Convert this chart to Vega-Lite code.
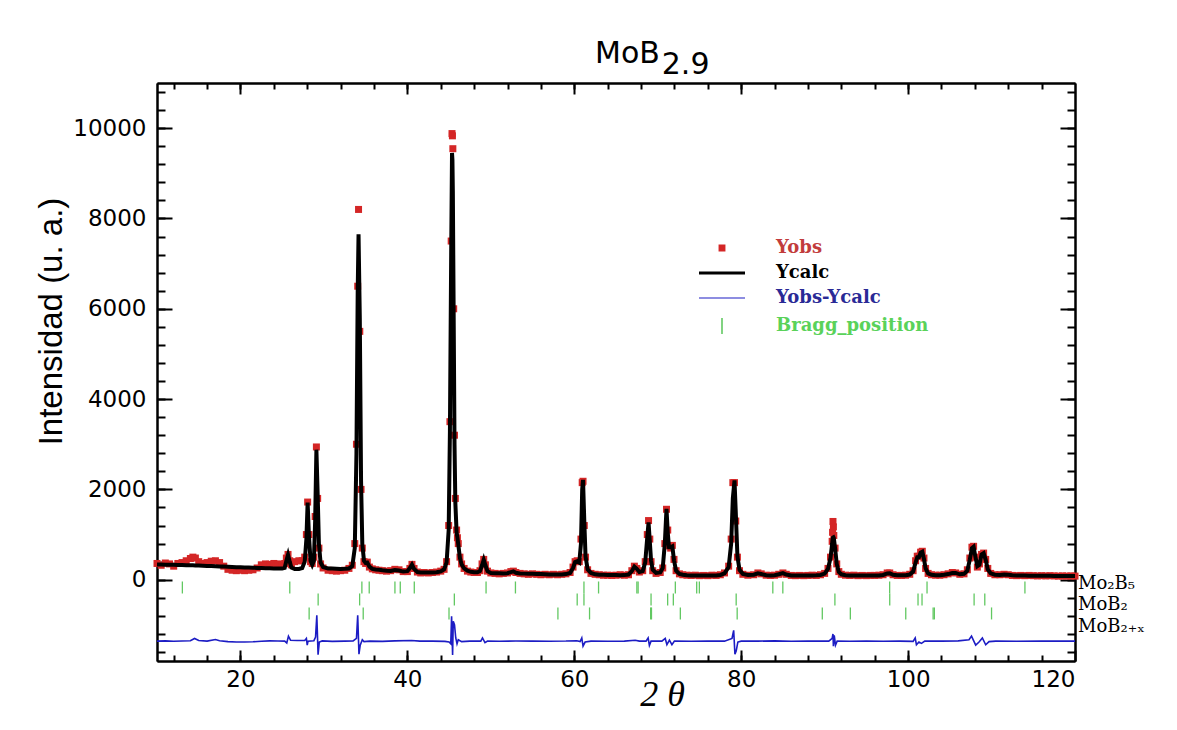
{
  "$schema": "https://vega.github.io/schema/vega-lite/v6.json",
  "width": 918,
  "height": 578,
  "autosize": "none",
  "padding": {"left": 157, "top": 83, "right": 102, "bottom": 69},
  "background": "white",
  "title": {"text": "MoB", "subtitle": "\u200b\u00a0\u00a0\u00a0\u00a0\u00a0\u00a0\u00a02.9", "font": "DejaVu Sans", "fontSize": 30, "fontWeight": "normal", "color": "black", "subtitleFont": "DejaVu Sans", "subtitleFontSize": 30, "subtitleColor": "black", "subtitlePadding": -19, "anchor": "start", "frame": "group", "align": "left", "dx": 438, "offset": -22, "baseline": "alphabetic"},
  "config": {
    "view": {"stroke": null},
    "axis": {"grid": false, "domainColor": "black", "domainWidth": 2, "tickColor": "black", "tickWidth": 2, "labelFont": "DejaVu Sans", "labelFontSize": 23, "labelColor": "black", "titleColor": "black"}
  },
  "datasets": {
    "prof": [
      {"x":10.0,"o":360,"c":338},{"x":10.5,"o":320,"c":336},{"x":11.0,"o":370,"c":334},{"x":11.5,"o":350,"c":332},{"x":12.0,"o":300,"c":330},{"x":12.5,"o":360,"c":328},{"x":13.0,"o":380,"c":326},{"x":13.5,"o":420,"c":323},{"x":14.0,"o":470,"c":320},{"x":14.3,"o":500,"c":318},{"x":14.6,"o":480,"c":316},{"x":15.0,"o":400,"c":313},{"x":15.5,"o":360,"c":310},{"x":16.0,"o":380,"c":306},{"x":16.5,"o":410,"c":302},{"x":17.0,"o":420,"c":298},{"x":17.5,"o":380,"c":294},{"x":18.0,"o":300,"c":290},{"x":18.5,"o":230,"c":286},{"x":19.0,"o":210,"c":282},{"x":19.5,"o":200,"c":278},{"x":20.0,"o":210,"c":274},{"x":20.5,"o":200,"c":271},{"x":21.0,"o":210,"c":268},{"x":21.5,"o":220,"c":265},{"x":22.0,"o":260,"c":262},{"x":22.5,"o":330,"c":259},{"x":23.0,"o":350,"c":256},{"x":23.5,"o":340,"c":253},{"x":24.0,"o":360,"c":250},{"x":24.5,"o":350,"c":248},{"x":25.0,"o":330,"c":246},{"x":25.3,"o":360,"c":260},{"x":25.5,"o":480,"c":420},{"x":25.7,"o":560,"c":550},{"x":25.9,"o":420,"c":400},{"x":26.1,"o":330,"c":270},{"x":26.5,"o":400,"c":240},{"x":27.0,"o":420,"c":240},{"x":27.4,"o":420,"c":260},{"x":27.7,"o":500,"c":400},{"x":27.9,"o":1000,"c":900},{"x":28.05,"o":1720,"c":1710},{"x":28.2,"o":1000,"c":1000},{"x":28.4,"o":400,"c":420},{"x":28.6,"o":360,"c":330},{"x":28.8,"o":500,"c":420},{"x":28.95,"o":1400,"c":1300},{"x":29.1,"o":2940,"c":2880},{"x":29.25,"o":1800,"c":1900},{"x":29.4,"o":700,"c":800},{"x":29.6,"o":350,"c":380},{"x":29.9,"o":260,"c":280},{"x":30.5,"o":210,"c":250},{"x":31.0,"o":200,"c":246},{"x":31.5,"o":190,"c":243},{"x":32.0,"o":200,"c":240},{"x":32.5,"o":210,"c":242},{"x":33.0,"o":250,"c":250},{"x":33.4,"o":320,"c":300},{"x":33.7,"o":800,"c":700},{"x":33.9,"o":3000,"c":2800},{"x":34.05,"o":6500,"c":6400},{"x":34.15,"o":8200,"c":7650},{"x":34.3,"o":5500,"c":5800},{"x":34.45,"o":2000,"c":2200},{"x":34.6,"o":700,"c":800},{"x":34.8,"o":400,"c":420},{"x":35.0,"o":360,"c":370},{"x":35.2,"o":390,"c":380},{"x":35.45,"o":280,"c":290},{"x":35.8,"o":240,"c":240},{"x":36.2,"o":220,"c":228},{"x":36.6,"o":210,"c":220},{"x":37.0,"o":200,"c":210},{"x":37.5,"o":190,"c":200},{"x":38.0,"o":200,"c":195},{"x":38.5,"o":230,"c":215},{"x":39.0,"o":220,"c":205},{"x":39.5,"o":180,"c":180},{"x":40.0,"o":180,"c":190},{"x":40.3,"o":250,"c":260},{"x":40.55,"o":340,"c":335},{"x":40.8,"o":250,"c":240},{"x":41.2,"o":170,"c":170},{"x":41.6,"o":150,"c":162},{"x":42.0,"o":160,"c":160},{"x":42.5,"o":150,"c":158},{"x":43.0,"o":160,"c":160},{"x":43.5,"o":170,"c":165},{"x":44.0,"o":190,"c":185},{"x":44.4,"o":230,"c":230},{"x":44.7,"o":400,"c":380},{"x":44.95,"o":1200,"c":1100},{"x":45.1,"o":3500,"c":3300},{"x":45.25,"o":7500,"c":7200},{"x":45.35,"o":9880,"c":9450},{"x":45.4,"o":9830,"c":9300},{"x":45.45,"o":9545,"c":8600},{"x":45.55,"o":6000,"c":5800},{"x":45.65,"o":3200,"c":3000},{"x":45.75,"o":1800,"c":1700},{"x":45.9,"o":1100,"c":1050},{"x":46.0,"o":930,"c":930},{"x":46.1,"o":800,"c":780},{"x":46.3,"o":500,"c":480},{"x":46.5,"o":350,"c":340},{"x":46.8,"o":250,"c":250},{"x":47.2,"o":190,"c":200},{"x":47.6,"o":170,"c":175},{"x":48.0,"o":160,"c":165},{"x":48.4,"o":160,"c":165},{"x":48.7,"o":200,"c":190},{"x":48.95,"o":350,"c":320},{"x":49.15,"o":450,"c":440},{"x":49.35,"o":330,"c":320},{"x":49.6,"o":190,"c":190},{"x":50.0,"o":150,"c":150},{"x":50.5,"o":140,"c":145},{"x":51.0,"o":130,"c":142},{"x":51.5,"o":140,"c":140},{"x":52.0,"o":150,"c":145},{"x":52.4,"o":180,"c":170},{"x":52.7,"o":190,"c":185},{"x":53.0,"o":160,"c":155},{"x":53.5,"o":140,"c":140},{"x":54.0,"o":130,"c":135},{"x":54.5,"o":120,"c":132},{"x":55.0,"o":130,"c":130},{"x":55.5,"o":120,"c":127},{"x":56.0,"o":110,"c":124},{"x":56.5,"o":120,"c":121},{"x":57.0,"o":110,"c":118},{"x":57.5,"o":120,"c":116},{"x":58.0,"o":110,"c":114},{"x":58.5,"o":120,"c":115},{"x":59.0,"o":130,"c":125},{"x":59.5,"o":160,"c":150},{"x":59.85,"o":280,"c":260},{"x":60.1,"o":400,"c":390},{"x":60.35,"o":420,"c":410},{"x":60.6,"o":400,"c":380},{"x":60.8,"o":900,"c":800},{"x":60.95,"o":2150,"c":2000},{"x":61.05,"o":2180,"c":2210},{"x":61.2,"o":1200,"c":1300},{"x":61.35,"o":500,"c":520},{"x":61.6,"o":220,"c":230},{"x":62.0,"o":140,"c":150},{"x":62.5,"o":120,"c":120},{"x":63.0,"o":110,"c":110},{"x":63.5,"o":100,"c":108},{"x":64.0,"o":100,"c":105},{"x":64.5,"o":95,"c":103},{"x":65.0,"o":100,"c":102},{"x":65.5,"o":110,"c":101},{"x":66.0,"o":100,"c":102},{"x":66.5,"o":110,"c":115},{"x":66.9,"o":200,"c":190},{"x":67.2,"o":300,"c":290},{"x":67.5,"o":250,"c":240},{"x":67.8,"o":170,"c":170},{"x":68.2,"o":200,"c":190},{"x":68.5,"o":400,"c":380},{"x":68.75,"o":1000,"c":950},{"x":68.9,"o":1310,"c":1270},{"x":69.05,"o":900,"c":850},{"x":69.2,"o":400,"c":420},{"x":69.4,"o":200,"c":220},{"x":69.8,"o":140,"c":150},{"x":70.3,"o":160,"c":160},{"x":70.6,"o":260,"c":260},{"x":70.85,"o":800,"c":800},{"x":71.05,"o":1560,"c":1570},{"x":71.2,"o":1100,"c":1050},{"x":71.35,"o":750,"c":720},{"x":71.55,"o":700,"c":720},{"x":71.75,"o":760,"c":740},{"x":71.95,"o":450,"c":430},{"x":72.2,"o":200,"c":200},{"x":72.6,"o":130,"c":130},{"x":73.0,"o":110,"c":110},{"x":73.5,"o":100,"c":100},{"x":74.0,"o":95,"c":95},{"x":74.5,"o":100,"c":95},{"x":75.0,"o":90,"c":92},{"x":75.5,"o":95,"c":92},{"x":76.0,"o":90,"c":92},{"x":76.5,"o":100,"c":93},{"x":77.0,"o":95,"c":95},{"x":77.5,"o":110,"c":105},{"x":78.0,"o":150,"c":140},{"x":78.5,"o":300,"c":280},{"x":78.8,"o":900,"c":800},{"x":79.0,"o":2150,"c":1800},{"x":79.2,"o":2150,"c":2200},{"x":79.35,"o":1300,"c":1500},{"x":79.55,"o":500,"c":520},{"x":79.8,"o":200,"c":220},{"x":80.2,"o":120,"c":130},{"x":80.8,"o":100,"c":105},{"x":81.5,"o":110,"c":110},{"x":82.0,"o":150,"c":140},{"x":82.4,"o":130,"c":125},{"x":83.0,"o":100,"c":100},{"x":83.5,"o":95,"c":95},{"x":84.0,"o":100,"c":100},{"x":84.5,"o":120,"c":120},{"x":85.0,"o":150,"c":145},{"x":85.4,"o":120,"c":115},{"x":86.0,"o":95,"c":95},{"x":86.5,"o":90,"c":92},{"x":87.0,"o":95,"c":92},{"x":87.5,"o":90,"c":92},{"x":88.0,"o":95,"c":93},{"x":88.5,"o":100,"c":95},{"x":89.0,"o":95,"c":98},{"x":89.5,"o":110,"c":105},{"x":90.0,"o":140,"c":135},{"x":90.4,"o":250,"c":240},{"x":90.7,"o":500,"c":480},{"x":90.9,"o":850,"c":800},{"x":90.95,"o":1050,"c":900},{"x":91.0,"o":1290,"c":935},{"x":91.05,"o":1170,"c":940},{"x":91.1,"o":980,"c":920},{"x":91.25,"o":700,"c":700},{"x":91.45,"o":350,"c":350},{"x":91.7,"o":180,"c":170},{"x":92.0,"o":120,"c":120},{"x":92.5,"o":100,"c":100},{"x":93.0,"o":95,"c":95},{"x":93.5,"o":100,"c":95},{"x":94.0,"o":90,"c":93},{"x":94.5,"o":95,"c":93},{"x":95.0,"o":90,"c":93},{"x":95.5,"o":95,"c":93},{"x":96.0,"o":95,"c":94},{"x":96.5,"o":100,"c":96},{"x":97.0,"o":110,"c":105},{"x":97.5,"o":150,"c":140},{"x":97.8,"o":150,"c":145},{"x":98.2,"o":110,"c":110},{"x":98.7,"o":95,"c":98},{"x":99.2,"o":95,"c":97},{"x":99.7,"o":100,"c":100},{"x":100.2,"o":120,"c":115},{"x":100.6,"o":200,"c":180},{"x":100.9,"o":420,"c":380},{"x":101.1,"o":520,"c":500},{"x":101.3,"o":520,"c":500},{"x":101.5,"o":610,"c":600},{"x":101.7,"o":630,"c":620},{"x":101.9,"o":480,"c":460},{"x":102.1,"o":250,"c":250},{"x":102.4,"o":140,"c":140},{"x":102.8,"o":110,"c":110},{"x":103.3,"o":100,"c":100},{"x":103.8,"o":100,"c":100},{"x":104.3,"o":110,"c":110},{"x":104.8,"o":130,"c":125},{"x":105.3,"o":160,"c":150},{"x":105.7,"o":150,"c":150},{"x":106.2,"o":120,"c":120},{"x":106.7,"o":130,"c":130},{"x":107.1,"o":220,"c":200},{"x":107.4,"o":480,"c":450},{"x":107.65,"o":720,"c":700},{"x":107.85,"o":740,"c":730},{"x":108.05,"o":500,"c":520},{"x":108.3,"o":280,"c":300},{"x":108.55,"o":350,"c":330},{"x":108.8,"o":560,"c":560},{"x":109.05,"o":590,"c":590},{"x":109.3,"o":450,"c":440},{"x":109.55,"o":250,"c":230},{"x":109.9,"o":140,"c":140},{"x":110.4,"o":110,"c":110},{"x":111.0,"o":110,"c":105},{"x":111.5,"o":120,"c":115},{"x":112.0,"o":110,"c":108},{"x":112.5,"o":95,"c":98},{"x":113.0,"o":90,"c":95},{"x":113.5,"o":95,"c":92},{"x":114.0,"o":90,"c":92},{"x":114.5,"o":95,"c":90},{"x":115.0,"o":90,"c":90},{"x":115.5,"o":85,"c":88},{"x":116.0,"o":90,"c":88},{"x":116.5,"o":85,"c":87},{"x":117.0,"o":90,"c":86},{"x":117.5,"o":85,"c":85},{"x":118.0,"o":80,"c":84},{"x":118.5,"o":85,"c":83},{"x":119.0,"o":80,"c":82},{"x":119.5,"o":85,"c":81},{"x":120.0,"o":80,"c":80}
    ],
    "diff": [
      {"x":10,"d":-1360},{"x":11,"d":-1355},{"x":12,"d":-1362},{"x":13,"d":-1358},{"x":14,"d":-1350},{"x":14.5,"d":-1300},{"x":15,"d":-1345},{"x":16,"d":-1360},{"x":17,"d":-1325},{"x":17.5,"d":-1350},{"x":18.5,"d":-1370},{"x":19.5,"d":-1378},{"x":20.5,"d":-1380},{"x":21.5,"d":-1375},{"x":22.5,"d":-1362},{"x":23.5,"d":-1355},{"x":24.5,"d":-1358},{"x":25.3,"d":-1360},{"x":25.55,"d":-1400},{"x":25.75,"d":-1250},{"x":26.0,"d":-1340},{"x":26.8,"d":-1345},{"x":27.7,"d":-1345},{"x":27.9,"d":-1300},{"x":28.0,"d":-1450},{"x":28.1,"d":-1360},{"x":28.8,"d":-1350},{"x":29.0,"d":-1270},{"x":29.15,"d":-790},{"x":29.3,"d":-1660},{"x":29.45,"d":-1380},{"x":29.8,"d":-1355},{"x":31,"d":-1365},{"x":32.5,"d":-1360},{"x":33.5,"d":-1355},{"x":33.9,"d":-1300},{"x":34.05,"d":-790},{"x":34.2,"d":-1650},{"x":34.35,"d":-1450},{"x":34.6,"d":-1330},{"x":34.8,"d":-1370},{"x":35.5,"d":-1360},{"x":37,"d":-1365},{"x":38.5,"d":-1355},{"x":40.5,"d":-1345},{"x":41.5,"d":-1360},{"x":43,"d":-1360},{"x":44.5,"d":-1365},{"x":45.0,"d":-1380},{"x":45.2,"d":-1420},{"x":45.3,"d":-810},{"x":45.42,"d":-1665},{"x":45.5,"d":-920},{"x":45.65,"d":-1000},{"x":45.8,"d":-1290},{"x":45.95,"d":-1420},{"x":46.1,"d":-1330},{"x":46.5,"d":-1370},{"x":47.5,"d":-1360},{"x":48.8,"d":-1360},{"x":49.0,"d":-1290},{"x":49.3,"d":-1395},{"x":49.6,"d":-1360},{"x":51,"d":-1362},{"x":53,"d":-1358},{"x":55,"d":-1360},{"x":57,"d":-1362},{"x":59,"d":-1358},{"x":60.3,"d":-1350},{"x":60.7,"d":-1370},{"x":60.9,"d":-1290},{"x":61.05,"d":-1470},{"x":61.3,"d":-1380},{"x":62,"d":-1360},{"x":64,"d":-1362},{"x":66,"d":-1360},{"x":67.3,"d":-1340},{"x":67.8,"d":-1360},{"x":68.6,"d":-1360},{"x":68.85,"d":-1290},{"x":69.0,"d":-1455},{"x":69.2,"d":-1360},{"x":70.5,"d":-1360},{"x":70.9,"d":-1300},{"x":71.1,"d":-1440},{"x":71.4,"d":-1340},{"x":71.7,"d":-1440},{"x":72.0,"d":-1360},{"x":74,"d":-1362},{"x":76,"d":-1360},{"x":78,"d":-1360},{"x":78.9,"d":-1300},{"x":79.1,"d":-1120},{"x":79.25,"d":-1650},{"x":79.4,"d":-1580},{"x":79.6,"d":-1380},{"x":80,"d":-1360},{"x":82,"d":-1360},{"x":84,"d":-1355},{"x":86,"d":-1362},{"x":88,"d":-1360},{"x":90.5,"d":-1360},{"x":90.9,"d":-1300},{"x":91.0,"d":-1200},{"x":91.05,"d":-1470},{"x":91.15,"d":-1230},{"x":91.3,"d":-1450},{"x":91.5,"d":-1360},{"x":93,"d":-1362},{"x":95,"d":-1360},{"x":97,"d":-1362},{"x":99,"d":-1360},{"x":100.6,"d":-1365},{"x":100.85,"d":-1290},{"x":101.0,"d":-1440},{"x":101.3,"d":-1380},{"x":101.6,"d":-1410},{"x":102,"d":-1360},{"x":104,"d":-1360},{"x":106,"d":-1355},{"x":107.3,"d":-1330},{"x":107.6,"d":-1250},{"x":108.1,"d":-1450},{"x":108.5,"d":-1380},{"x":108.9,"d":-1290},{"x":109.3,"d":-1440},{"x":109.7,"d":-1370},{"x":110.5,"d":-1360},{"x":113,"d":-1362},{"x":116,"d":-1360},{"x":120,"d":-1360}
    ],
    "b1": [{"x":13.04},{"x":25.91},{"x":34.55},{"x":35.43},{"x":38.51},{"x":39.15},{"x":40.83},{"x":49.43},{"x":52.95},{"x":61.16},{"x":62.91},{"x":67.5},{"x":67.65},{"x":72.11},{"x":74.67},{"x":74.99},{"x":83.79},{"x":84.99},{"x":97.79},{"x":102.27},{"x":114.0}],
    "b2": [{"x":29.31},{"x":34.28},{"x":45.63},{"x":60.35},{"x":61.16},{"x":69.2},{"x":71.19},{"x":71.87},{"x":79.4},{"x":91.23},{"x":97.8},{"x":101.19},{"x":101.67},{"x":107.91},{"x":109.19}],
    "b3": [{"x":28.23},{"x":34.71},{"x":44.99},{"x":58.04},{"x":61.83},{"x":69.15},{"x":69.25},{"x":72.71},{"x":79.52},{"x":89.72},{"x":93.08},{"x":99.72},{"x":103.0},{"x":103.15},{"x":110.0}],
    "lab": [{"label":"Mo₂B₅","y":-210},{"label":"MoB₂","y":-665},{"label":"MoB₂₊ₓ","y":-1150}]
  },
  "resolve": {"axis": {"x": "independent", "y": "independent"}},
  "layer": [
    {
      "data": {"name": "prof"},
      "mark": {"type": "square", "size": 49, "opacity": 1},
      "encoding": {
        "x": {"field": "x", "type": "quantitative", "scale": {"domain": [10, 120], "nice": false, "zero": false},
              "axis": {"orient": "bottom", "values": [20, 40, 60, 80, 100, 120], "tickSize": -11, "labelPadding": 18, "title": "2  θ", "titleFont": "Liberation Serif", "titleFontStyle": "italic", "titleFontSize": 36, "titleFontWeight": "normal", "titleX": 505, "titleY": 44, "titleAlign": "center", "titleBaseline": "alphabetic"}},
        "y": {"field": "o", "type": "quantitative", "scale": {"domain": [-1800, 11000], "nice": false, "zero": false},
              "axis": {"orient": "left", "values": [0, 2000, 4000, 6000, 8000, 10000], "format": "d", "tickSize": -15, "labelPadding": 26, "title": "Intensidad (u. a.)", "titleFont": "Liberation Sans", "titleFontSize": 33, "titleFontWeight": "normal", "titleX": -96, "titleY": 238, "titleAlign": "center", "titleBaseline": "alphabetic", "titleAngle": -90}},
        "color": {"datum": "Yobs", "type": "nominal",
                  "scale": {"domain": ["Yobs", "Ycalc", "Yobs-Ycalc", "Bragg_position"], "range": ["#d42626", "#000000", "#1c1cc4", "#62c862"]},
                  "legend": {"orient": "none", "legendX": 556, "legendY": 156, "title": null, "padding": 0, "symbolSize": 400, "labelOffset": 45, "labelFont": "DejaVu Serif", "labelFontWeight": "bold", "labelFontSize": 18, "rowPadding": 7,
                             "encoding": {
                               "symbols": {
                                 "shape": {"value": {"expr": "datum.value === 'Yobs' ? 'square' : datum.value === 'Bragg_position' ? 'M0,-1L0,1' : 'stroke'"}},
                                 "size": {"value": {"expr": "datum.value === 'Yobs' ? 28 : datum.value === 'Bragg_position' ? 256 : 2116"}},
                                 "fill": {"value": {"expr": "datum.value === 'Yobs' ? '#cc2222' : 'transparent'"}},
                                 "stroke": {"value": {"expr": "datum.value === 'Yobs' ? 'transparent' : datum.value === 'Ycalc' ? '#000000' : datum.value === 'Yobs-Ycalc' ? '#2b2b99' : '#2e8b2e'"}},
                                 "strokeWidth": {"value": {"expr": "datum.value === 'Ycalc' ? 3 : datum.value === 'Yobs-Ycalc' ? 1.2 : 1.6"}},
                                 "opacity": {"value": 1}
                               },
                               "labels": {
                                 "fill": {"value": {"expr": "datum.value === 'Yobs' ? '#c23c3c' : datum.value === 'Ycalc' ? '#000000' : datum.value === 'Yobs-Ycalc' ? '#2a2a96' : '#5ad25a'"}}
                               }
                             }}}
      }
    },
    {
      "data": {"name": "prof"},
      "mark": {"type": "line", "strokeWidth": 4},
      "encoding": {
        "x": {"field": "x", "type": "quantitative", "scale": {"domain": [10, 120], "nice": false, "zero": false},
              "axis": {"orient": "bottom", "values": [12,16,20,24,28,32,36,40,44,48,52,56,60,64,68,72,76,80,84,88,92,96,100,104,108,112,116], "tickSize": -6, "labels": false, "title": null}},
        "y": {"field": "c", "type": "quantitative", "scale": {"domain": [-1800, 11000], "nice": false, "zero": false},
              "axis": {"orient": "left", "values": [-1600,-1200,-800,-400,0,400,800,1200,1600,2000,2400,2800,3200,3600,4000,4400,4800,5200,5600,6000,6400,6800,7200,7600,8000,8400,8800,9200,9600,10000,10400,10800], "tickSize": -8, "labels": false, "title": null}},
        "color": {"datum": "Ycalc", "type": "nominal"}
      }
    },
    {
      "data": {"name": "diff"},
      "mark": {"type": "line", "strokeWidth": 1.6},
      "encoding": {
        "x": {"field": "x", "type": "quantitative", "scale": {"domain": [10, 120], "nice": false, "zero": false},
              "axis": {"orient": "top", "values": [20, 40, 60, 80, 100], "tickSize": -11, "labels": false, "title": null}},
        "y": {"field": "d", "type": "quantitative", "scale": {"domain": [-1800, 11000], "nice": false, "zero": false},
              "axis": {"orient": "right", "values": [0, 2000, 4000, 6000, 8000, 10000], "tickSize": -15, "labels": false, "title": null}},
        "color": {"datum": "Yobs-Ycalc", "type": "nominal"}
      }
    },
    {
      "data": {"name": "b1"},
      "mark": {"type": "tick", "orient": "vertical", "thickness": 1.3, "size": 12, "opacity": 1},
      "encoding": {
        "x": {"field": "x", "type": "quantitative", "scale": {"domain": [10, 120], "nice": false, "zero": false},
              "axis": {"orient": "top", "values": [12,16,20,24,28,32,36,40,44,48,52,56,60,64,68,72,76,80,84,88,92,96,100,104,108,112,116], "tickSize": -6, "labels": false, "title": null}},
        "y": {"datum": -172, "type": "quantitative", "scale": {"domain": [-1800, 11000], "nice": false, "zero": false},
              "axis": {"orient": "right", "values": [-1600,-1200,-800,-400,0,400,800,1200,1600,2000,2400,2800,3200,3600,4000,4400,4800,5200,5600,6000,6400,6800,7200,7600,8000,8400,8800,9200,9600,10000,10400,10800], "tickSize": -8, "labels": false, "title": null}},
        "color": {"datum": "Bragg_position", "type": "nominal"}
      }
    },
    {
      "data": {"name": "b2"},
      "mark": {"type": "tick", "orient": "vertical", "thickness": 1.3, "size": 12, "opacity": 1},
      "encoding": {
        "x": {"field": "x", "type": "quantitative", "scale": {"domain": [10, 120], "nice": false, "zero": false}, "axis": null},
        "y": {"datum": -437, "type": "quantitative", "scale": {"domain": [-1800, 11000], "nice": false, "zero": false}, "axis": null},
        "color": {"datum": "Bragg_position", "type": "nominal"}
      }
    },
    {
      "data": {"name": "b3"},
      "mark": {"type": "tick", "orient": "vertical", "thickness": 1.3, "size": 12, "opacity": 1},
      "encoding": {
        "x": {"field": "x", "type": "quantitative", "scale": {"domain": [10, 120], "nice": false, "zero": false}, "axis": null},
        "y": {"datum": -747, "type": "quantitative", "scale": {"domain": [-1800, 11000], "nice": false, "zero": false}, "axis": null},
        "color": {"datum": "Bragg_position", "type": "nominal"}
      }
    },
    {
      "data": {"name": "lab"},
      "mark": {"type": "text", "align": "left", "baseline": "alphabetic", "dx": 3, "font": "DejaVu Serif", "fontSize": 18, "color": "black"},
      "encoding": {
        "x": {"datum": 120, "type": "quantitative", "scale": {"domain": [10, 120], "nice": false, "zero": false}, "axis": null},
        "y": {"field": "y", "type": "quantitative", "scale": {"domain": [-1800, 11000], "nice": false, "zero": false}, "axis": null},
        "text": {"field": "label"}
      }
    }
  ]
}
